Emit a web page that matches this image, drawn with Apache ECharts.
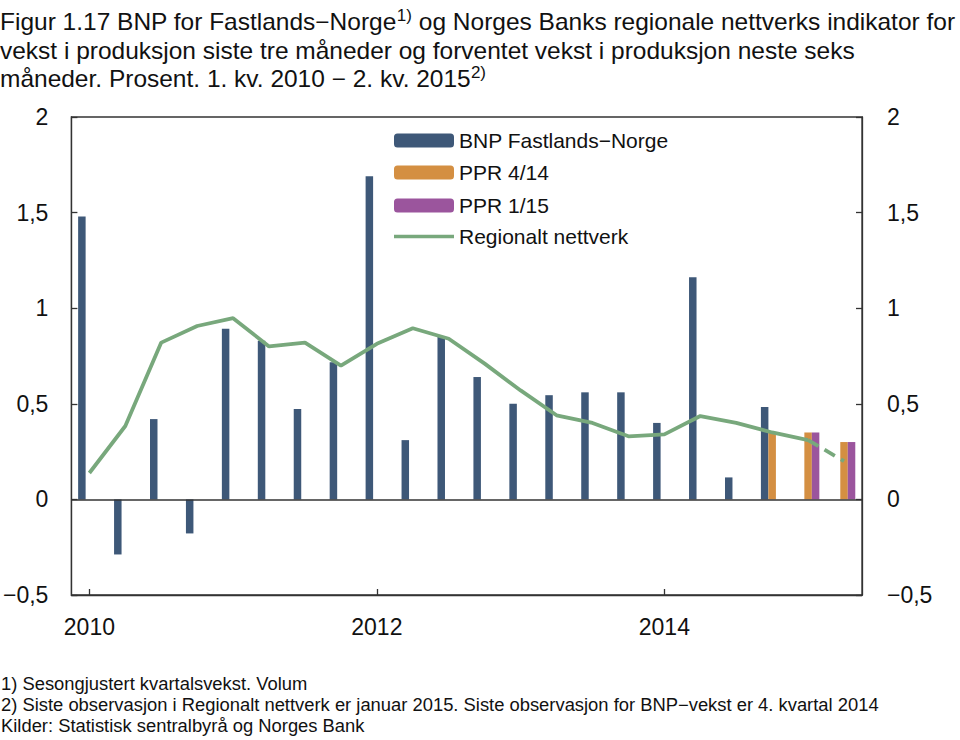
<!DOCTYPE html>
<html>
<head>
<meta charset="utf-8">
<script src="https://cdn.jsdelivr.net/npm/echarts@6/dist/echarts.min.js"></script>
<style>html,body{margin:0;padding:0;background:#fff;}#c{width:960px;height:740px;}</style>
</head>
<body>
<div id="c"></div>
<script>
const categories = ['2010K1','2010K2','2010K3','2010K4','2011K1','2011K2','2011K3','2011K4','2012K1','2012K2','2012K3','2012K4','2013K1','2013K2','2013K3','2013K4','2014K1','2014K2','2014K3','2014K4','2015K1','2015K2'];
const xTickLabels = {0:'2010', 8:'2012', 16:'2014'};
const bnp = [1.48,-0.288,0.42,-0.178,0.893,0.83,0.473,0.717,1.69,0.31,0.855,0.64,0.50,0.545,0.56,0.56,0.40,1.162,0.115,0.483,null,null];
const ppr414 = [null,null,null,null,null,null,null,null,null,null,null,null,null,null,null,null,null,null,null,0.35,0.35,0.30];
const ppr115 = [null,null,null,null,null,null,null,null,null,null,null,null,null,null,null,null,null,null,null,null,0.35,0.30];
const regional = [0.138,0.384,0.82,0.907,0.948,0.80,0.82,0.70,0.814,0.895,0.84,0.71,0.57,0.44,0.40,0.33,0.34,0.436,0.40,0.35,0.31,null];
const regionalForecast = [null,null,null,null,null,null,null,null,null,null,null,null,null,null,null,null,null,null,null,null,0.31,0.20];
const yTicks = [-0.5,0,0.5,1,1.5,2];

const C_BNP = '#3E5878', C_414 = '#D48F42', C_115 = '#9B559D', C_REG = '#78A87C';
const FONT = 'Liberation Sans, Arial, sans-serif';

function fmt(v){ return (v<0?'\u2212':'') + String(Math.abs(v)).replace('.', ','); }

const chart = echarts.init(document.getElementById('c'), null, {renderer:'svg'});
const axisY = (pos, margin) => ({
  type:'value', position:pos, min:yTicks[0], max:yTicks[yTicks.length-1], interval:0.5,
  axisLine:{show:true, lineStyle:{color:'#333', width:1.3}},
  axisTick:{show:true, inside:true, length:6, lineStyle:{color:'#333', width:1.3}},
  splitLine:{show:false},
  axisLabel:{formatter:fmt, color:'#111', fontSize:23, fontFamily:FONT, margin:margin}
});
const legendBase = (name, top, extra) => Object.assign({
  data:[name], left:394, top:top, orient:'vertical', itemWidth:60, itemHeight:14, itemGap:0, padding:0,
  textStyle:{fontSize:21, fontFamily:FONT, color:'#111'}, selectedMode:false
}, extra||{});

const titleRich = {
  a:{fontSize:23, fontFamily:FONT, fill:'#111', lineHeight:28.5},
  s:{fontSize:16, fontFamily:FONT, fill:'#111', verticalAlign:'top', lineHeight:28.5, padding:[0,0,12,0]}
};
const footStyle = (t) => ({text:t, fontSize:17.5, fontFamily:FONT, fill:'#111'});

chart.setOption({
  animation:false,
  backgroundColor:'#fff',
  grid:{left:70, right:98, top:117, bottom:145, show:true, borderColor:'#333', borderWidth:1.3, containLabel:false},
  legend:[
    legendBase('BNP Fastlands\u2212Norge', 130),
    legendBase('PPR 4/14', 162),
    legendBase('PPR 1/15', 195),
    legendBase('Regionalt nettverk', 226, {icon:'rect', itemHeight:3.5})
  ],
  xAxis:{
    type:'category', data:categories, boundaryGap:true,
    axisLine:{onZero:false, lineStyle:{color:'#333', width:1.3}},
    axisTick:{show:true, inside:true, length:6, alignWithLabel:true, interval:(i)=>xTickLabels[i]!==undefined, lineStyle:{color:'#333', width:1.3}},
    axisLabel:{interval:(i)=>xTickLabels[i]!==undefined, formatter:(v,i)=>xTickLabels[i]||'', color:'#111', fontSize:23, fontFamily:FONT, margin:20},
    splitLine:{show:false}
  },
  yAxis:[axisY('left', 23), axisY('right', 25)],
  series:[
    {name:'BNP Fastlands\u2212Norge', type:'bar', data:bnp, barWidth:7.5, barGap:'0%', itemStyle:{color:C_BNP},
     markLine:{silent:true, symbol:'none', label:{show:false}, lineStyle:{color:'#333', width:1.5, type:'solid'}, data:[{yAxis:0}]}},
    {name:'PPR 4/14', type:'bar', data:ppr414, barWidth:7.5, barGap:'0%', itemStyle:{color:C_414}},
    {name:'PPR 1/15', type:'bar', data:ppr115, barWidth:7.5, barGap:'0%', itemStyle:{color:C_115}},
    {name:'Regionalt nettverk', type:'line', data:regional, symbol:'none', lineStyle:{color:C_REG, width:3.8}, itemStyle:{color:C_REG}, z:5},
    {name:'Regionalt nettverk (prognose)', type:'line', data:regionalForecast, symbol:'none', lineStyle:{color:C_REG, width:3.8, type:[12,7]}, itemStyle:{color:C_REG}, z:5}
  ],
  graphic:[
    {type:'text', left:0, top:8, scaleX:1.065, originX:0, originY:0,
     style:{text:'{a|Figur 1.17 BNP for Fastlands\u2212Norge}{s|1)}{a| og Norges Banks regionale nettverks indikator for}\n{a|vekst i produksjon siste tre måneder og forventet vekst i produksjon neste seks}\n{a|måneder. Prosent. 1. kv. 2010 \u2212 2. kv. 2015}{s|2)}',
            fontSize:23, fontFamily:FONT, fill:'#111', lineHeight:28.5, rich:titleRich}},
    {type:'text', left:1, top:675, scaleX:1.05, originX:0, style:footStyle('1) Sesongjustert kvartalsvekst. Volum')},
    {type:'text', left:1, top:696, scaleX:1.05, originX:0, style:footStyle('2) Siste observasjon i Regionalt nettverk er januar 2015. Siste observasjon for BNP\u2212vekst er 4. kvartal 2014')},
    {type:'text', left:1, top:717, scaleX:1.05, originX:0, style:footStyle('Kilder: Statistisk sentralbyrå og Norges Bank')}
  ]
});
</script>
</body>
</html>
